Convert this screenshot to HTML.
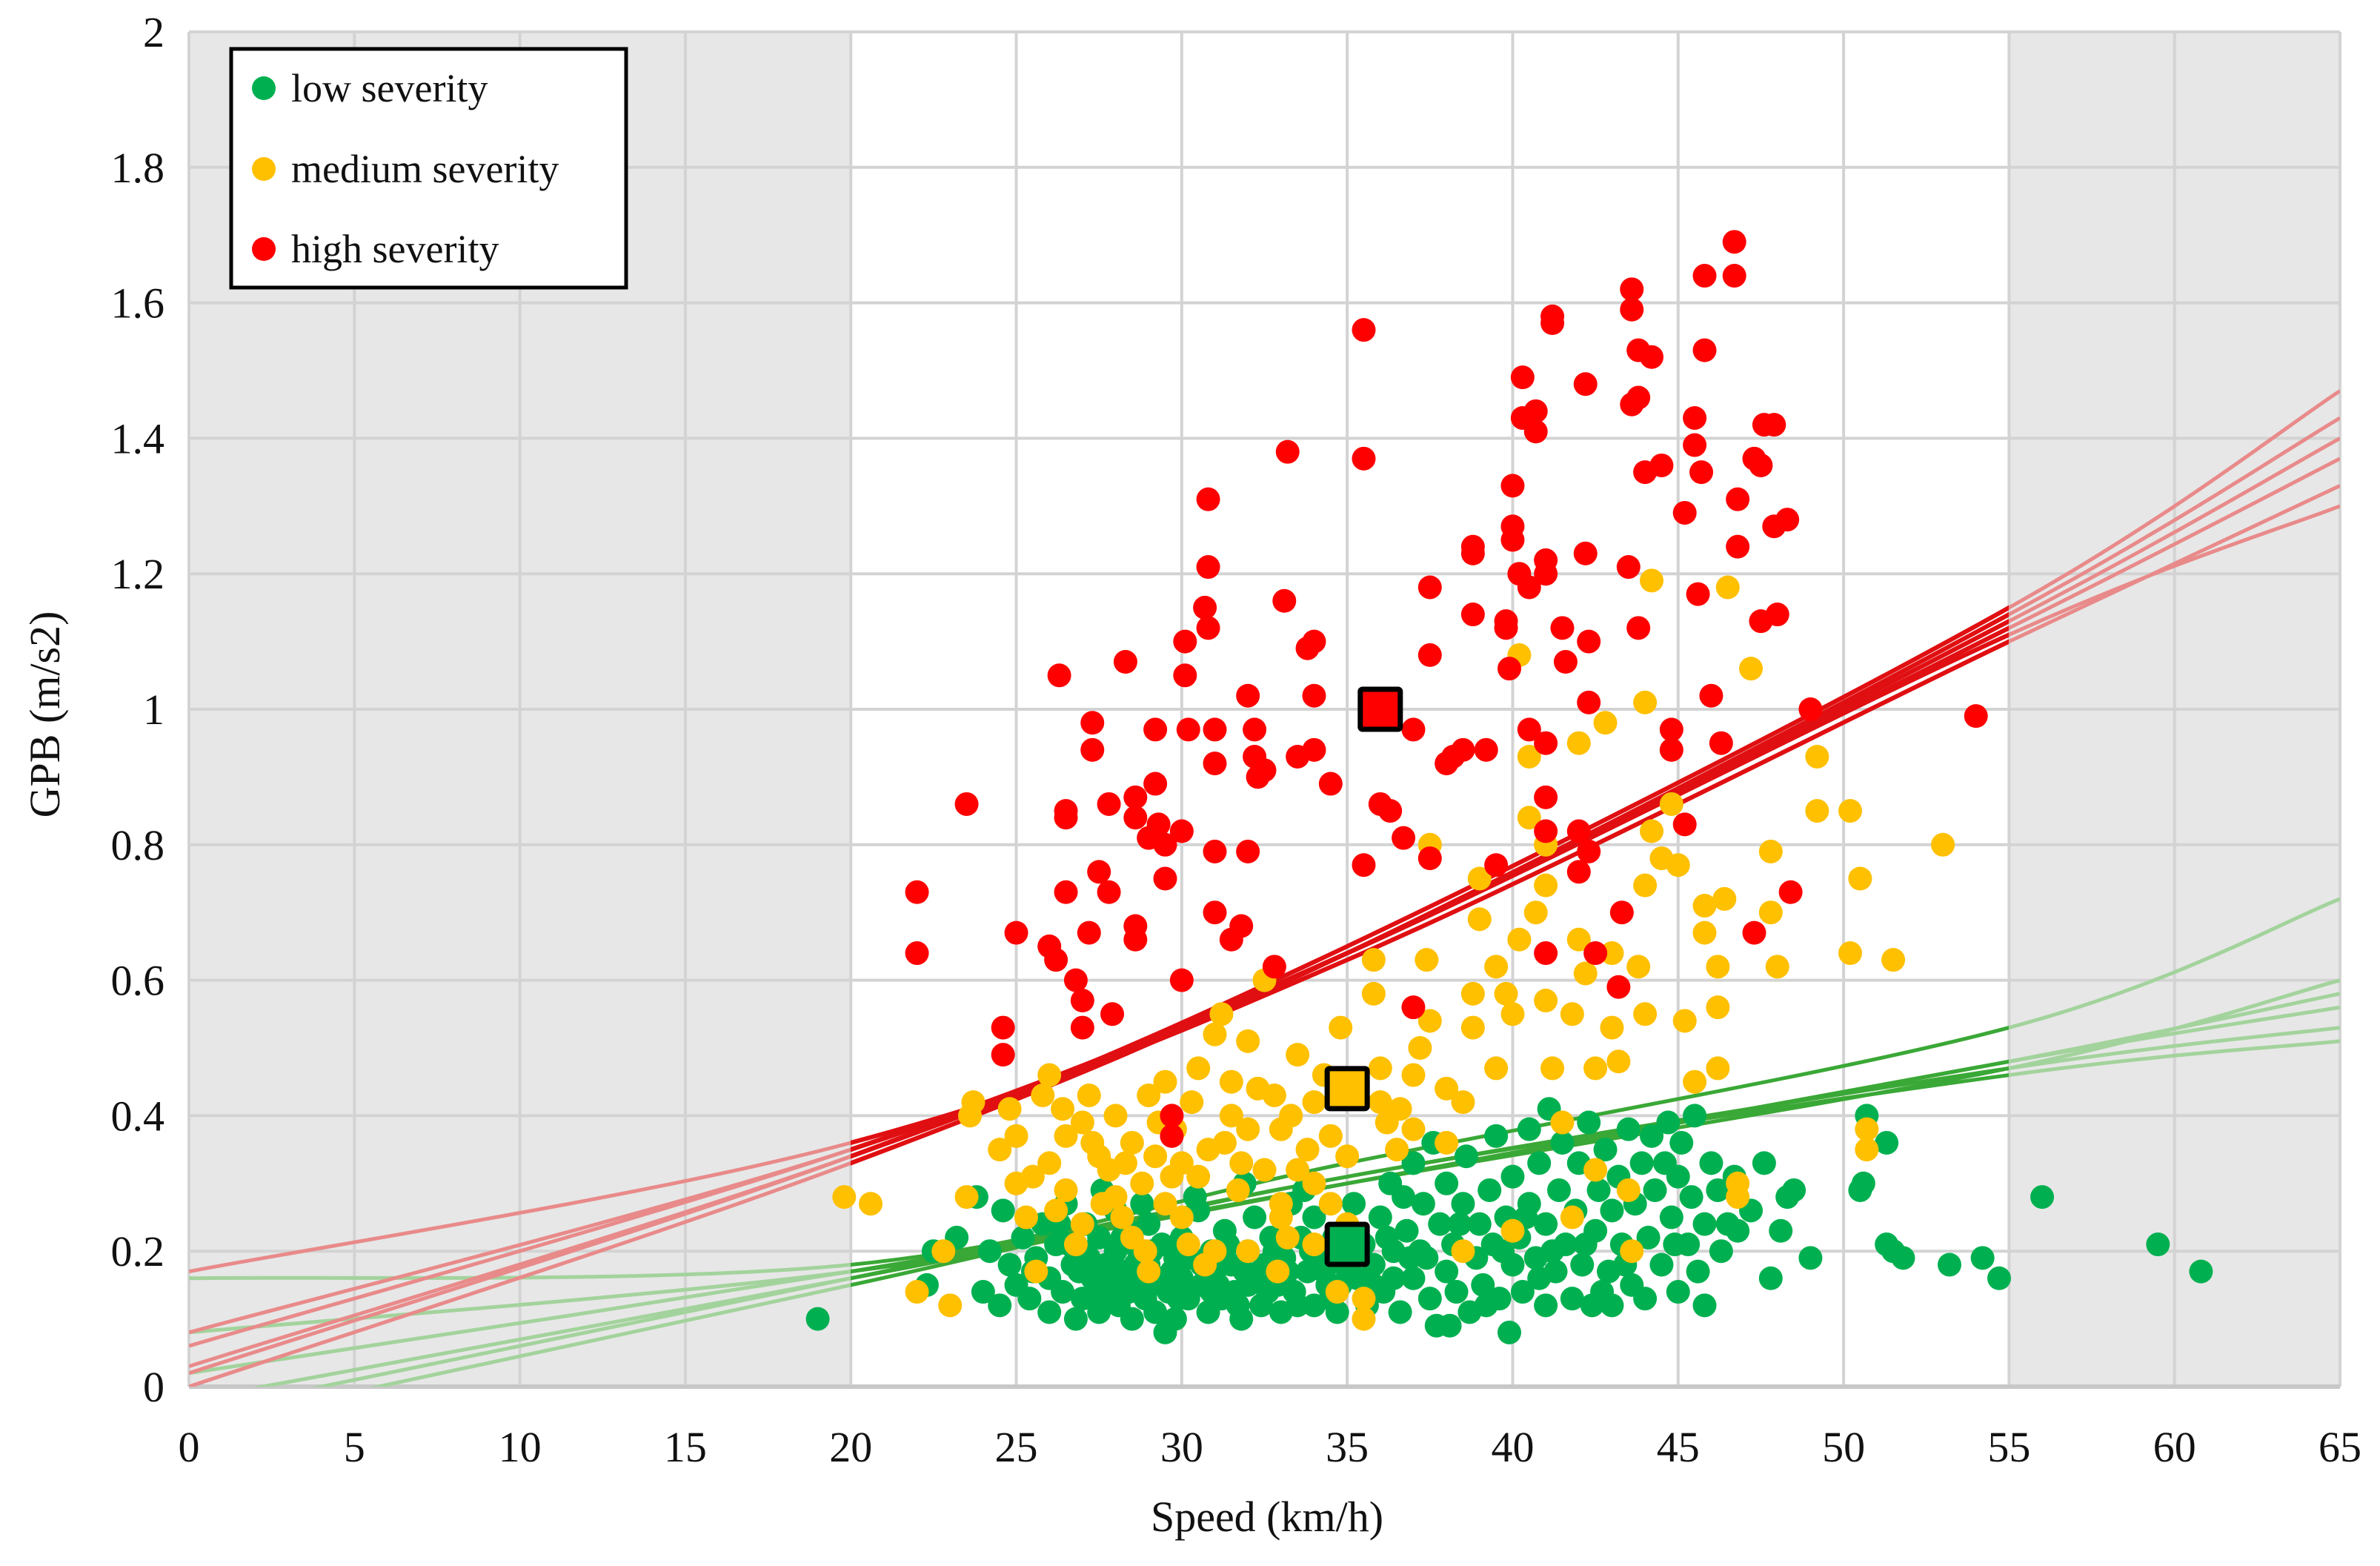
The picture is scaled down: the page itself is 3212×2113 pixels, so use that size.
<!DOCTYPE html>
<html><head><meta charset="utf-8"><style>
html,body{margin:0;padding:0;background:#fff}
svg{display:block}
text{font-family:"Liberation Serif",serif;fill:#111}
</style></head><body>
<svg id="chart" width="3212" height="2113" xmlns="http://www.w3.org/2000/svg">
<defs>
<clipPath id="plotClip"><rect x="255" y="43" width="2903" height="1828"/></clipPath>
<clipPath id="midClip"><rect x="1148" y="43" width="1563" height="1828"/></clipPath>
</defs>
<g id="bg"></g>
<g id="grid"></g>
<g id="lines"></g>
<g id="pts"></g>
<g id="sq"></g>
<g id="ticks"></g>
<text x="1710" y="2066" font-size="58" text-anchor="middle">Speed (km/h)</text>
<text transform="translate(80,964) rotate(-90)" font-size="58" text-anchor="middle">GPB (m/s2)</text>
<g>
<rect x="312" y="66" width="533" height="322" fill="#fff" stroke="#000" stroke-width="5"/>
<g><circle cx="356" cy="119" r="16" fill="#00b050"/><text x="393" y="137" font-size="54">low severity</text></g>
<g><circle cx="356" cy="228" r="16" fill="#ffc000"/><text x="393" y="246" font-size="54">medium severity</text></g>
<g><circle cx="356" cy="336" r="16" fill="#ff0000"/><text x="393" y="354" font-size="54">high severity</text></g>
</g>
</svg>
<script>
const xTicks=[0,5,10,15,20,25,30,35,40,45,50,55,60,65];
const yTicks=[0,0.2,0.4,0.6,0.8,1,1.2,1.4,1.6,1.8,2];
const yTickLabels=["0","0.2","0.4","0.6","0.8","1","1.2","1.4","1.6","1.8","2"];
const highPts=[[22,0.73],[22,0.64],[23.5,0.86],[24.6,0.53],[24.6,0.49],[25,0.67],[26.3,1.05],[26,0.65],[26.2,0.63],[26.5,0.85],[26.5,0.84],[26.5,0.73],[26.8,0.6],[27,0.57],[27,0.53],[27.2,0.67],[27.3,0.98],[27.3,0.94],[27.5,0.76],[27.8,0.86],[27.8,0.73],[27.9,0.55],[28.3,1.07],[28.6,0.87],[28.6,0.84],[28.6,0.68],[28.6,0.66],[29,0.81],[29.2,0.97],[29.2,0.89],[29.3,0.83],[29.5,0.8],[29.5,0.75],[29.7,0.4],[29.7,0.37],[30,0.82],[30,0.6],[30.1,1.1],[30.1,1.05],[30.2,0.97],[30.8,1.31],[30.8,1.21],[30.7,1.15],[30.8,1.12],[31,0.97],[31,0.92],[31,0.79],[31,0.7],[31.5,0.66],[31.8,0.68],[32,1.02],[32,0.79],[32.2,0.97],[32.2,0.93],[32.3,0.9],[32.5,0.91],[32.8,0.62],[33.2,1.38],[33.1,1.16],[33.5,0.93],[33.8,1.09],[34,1.1],[34,1.02],[34,0.94],[34.5,0.89],[35.5,1.56],[35.5,1.37],[35.5,0.77],[36,0.86],[36.3,0.85],[36.7,0.81],[37,0.97],[37,0.56],[37.5,1.08],[37.5,0.78],[37.5,1.18],[38,0.92],[38.2,0.93],[38.5,0.94],[38.8,1.14],[38.8,1.24],[38.8,1.23],[39.2,0.94],[39.5,0.77],[39.8,1.13],[39.8,1.12],[39.9,1.06],[40,1.33],[40,1.27],[40,1.25],[40.2,1.2],[40.3,1.49],[40.3,1.43],[40.5,1.18],[40.5,0.97],[40.7,1.44],[40.7,1.41],[41,1.22],[41,1.2],[41,0.95],[41,0.87],[41,0.82],[41,0.64],[41.2,1.58],[41.2,1.57],[41.5,1.12],[41.6,1.07],[42,0.82],[42,0.76],[42.2,1.48],[42.2,1.23],[42.3,1.1],[42.3,1.01],[42.3,0.79],[42.5,0.64],[43.2,0.59],[43.5,1.21],[43.6,1.62],[43.6,1.59],[43.6,1.45],[43.8,1.53],[43.8,1.46],[43.8,1.12],[43.3,0.7],[44,1.35],[44.2,1.52],[44.5,1.36],[44.8,0.94],[44.8,0.97],[45.2,0.83],[45.2,1.29],[45.5,1.43],[45.5,1.39],[45.6,1.17],[45.7,1.35],[45.8,1.53],[45.8,1.64],[46,1.02],[46.3,0.95],[46.7,1.69],[46.7,1.64],[46.8,1.31],[46.8,1.24],[47.3,1.37],[47.5,1.13],[47.5,1.36],[47.6,1.42],[47.9,1.42],[47.9,1.27],[48,1.14],[48.3,1.28],[48.4,0.73],[47.3,0.67],[49,1.0],[54,0.99]];
const medPts=[[19.8,0.28],[20.6,0.27],[22,0.14],[22.8,0.2],[23,0.12],[23.5,0.28],[23.7,0.42],[23.6,0.4],[24.5,0.35],[24.8,0.41],[25,0.37],[25,0.3],[25.5,0.31],[25.6,0.17],[25.8,0.43],[26,0.46],[26,0.33],[26.2,0.26],[26.5,0.37],[26.5,0.29],[26.8,0.21],[27,0.24],[27,0.39],[27.2,0.43],[27.5,0.34],[27.8,0.32],[28,0.4],[28,0.28],[28.2,0.25],[28.5,0.36],[28.5,0.22],[28.8,0.3],[29,0.43],[29,0.17],[29.2,0.34],[29.5,0.45],[29.5,0.27],[29.8,0.38],[30,0.33],[30,0.25],[30.2,0.21],[30.5,0.31],[30.8,0.35],[31,0.2],[31,0.52],[31.2,0.55],[31.5,0.45],[31.5,0.4],[31.7,0.29],[32,0.51],[32,0.38],[32,0.2],[32.5,0.6],[32.5,0.32],[32.8,0.43],[33,0.38],[33,0.25],[33.2,0.22],[33.5,0.49],[33.5,0.32],[34,0.42],[34,0.3],[34,0.21],[34.5,0.37],[34.5,0.27],[34.8,0.53],[35,0.34],[35,0.24],[35.5,0.13],[35.5,0.1],[35.8,0.63],[35.8,0.58],[36,0.42],[36,0.47],[36.2,0.39],[36.5,0.35],[37,0.46],[37,0.38],[37.4,0.63],[37.5,0.54],[37.5,0.8],[38,0.44],[38,0.36],[38.5,0.42],[38.5,0.2],[38.8,0.58],[38.8,0.53],[39,0.75],[39,0.69],[39.5,0.47],[39.5,0.62],[39.8,0.58],[40,0.23],[40,0.55],[40.2,1.08],[40.2,0.66],[40.5,0.84],[40.5,0.93],[40.7,0.7],[41,0.8],[41,0.74],[41,0.57],[41.2,0.47],[41.5,0.39],[41.8,0.55],[42,0.95],[42,0.66],[42.2,0.61],[42.5,0.47],[42.8,0.98],[43,0.53],[43,0.64],[43.2,0.48],[43.5,0.29],[43.8,0.62],[44,1.01],[44,0.74],[44,0.55],[44.2,0.82],[44.2,1.19],[44.5,0.78],[44.8,0.86],[45,0.77],[45.2,0.54],[45.8,0.71],[45.8,0.67],[46.2,0.62],[46.2,0.56],[46.4,0.72],[46.5,1.18],[46.2,0.47],[47.2,1.06],[47.8,0.79],[47.8,0.7],[48,0.62],[49.2,0.93],[49.2,0.85],[50.2,0.85],[50.2,0.64],[50.5,0.75],[50.7,0.38],[50.7,0.35],[51.5,0.63],[53,0.8],[46.8,0.3],[46.8,0.28],[45.5,0.45],[43.6,0.2],[42.5,0.32],[41.8,0.25],[27.3,0.36],[28.3,0.33],[29.3,0.39],[30.3,0.42],[31.3,0.36],[32.3,0.44],[33.3,0.4],[34.3,0.46],[27.6,0.27],[29.7,0.31],[31.8,0.33],[33.8,0.35],[28.9,0.2],[30.7,0.18],[32.9,0.17],[34.7,0.14],[36.6,0.41],[37.2,0.5],[26.4,0.41],[25.3,0.25],[33,0.27],[30.5,0.47]];
const lowPts=[[19,0.1],[22.3,0.15],[22.5,0.2],[23.2,0.22],[23.8,0.28],[24,0.14],[24.5,0.12],[24.6,0.26],[24.8,0.18],[25,0.15],[25.2,0.22],[25.4,0.13],[25.6,0.19],[25.8,0.24],[26,0.11],[26,0.16],[26.2,0.21],[26.4,0.14],[26.5,0.27],[26.7,0.18],[26.8,0.1],[27,0.13],[27,0.2],[27.1,0.24],[27.3,0.16],[27.5,0.11],[27.5,0.22],[27.7,0.18],[27.8,0.14],[28,0.2],[28,0.26],[28.1,0.12],[28.3,0.17],[28.4,0.23],[28.5,0.1],[28.6,0.15],[28.7,0.2],[28.9,0.13],[29,0.18],[29,0.24],[29.2,0.11],[29.3,0.16],[29.4,0.21],[29.5,0.08],[29.6,0.14],[29.8,0.19],[29.8,0.1],[30,0.16],[30,0.22],[30.2,0.13],[30.3,0.19],[30.5,0.26],[30.6,0.15],[30.8,0.11],[30.9,0.2],[31,0.17],[31.2,0.13],[31.3,0.23],[31.5,0.18],[31.6,0.14],[31.8,0.1],[32,0.2],[32,0.15],[32.2,0.25],[32.4,0.12],[32.5,0.18],[32.7,0.22],[32.9,0.15],[33,0.11],[33.1,0.19],[33.3,0.27],[33.4,0.14],[33.6,0.22],[33.8,0.17],[34,0.12],[34,0.25],[34.2,0.19],[34.4,0.15],[34.6,0.22],[34.7,0.11],[34.9,0.18],[35.2,0.27],[35.3,0.16],[35.5,0.21],[35.6,0.12],[35.8,0.18],[36,0.25],[36.1,0.14],[36.3,0.3],[36.4,0.2],[36.6,0.11],[36.8,0.23],[37,0.16],[37,0.33],[37.2,0.2],[37.3,0.27],[37.5,0.13],[37.6,0.36],[37.7,0.09],[37.8,0.24],[38,0.17],[38,0.3],[38.2,0.21],[38.3,0.14],[38.5,0.27],[38.6,0.34],[38.7,0.11],[38.9,0.19],[39,0.24],[39.1,0.15],[39.3,0.29],[39.4,0.21],[39.5,0.37],[39.6,0.13],[39.8,0.25],[39.9,0.08],[40,0.18],[40,0.31],[40.2,0.22],[40.3,0.14],[40.5,0.27],[40.5,0.38],[40.7,0.19],[40.8,0.33],[41,0.12],[41,0.24],[41.1,0.41],[41.3,0.17],[41.4,0.29],[41.5,0.36],[41.6,0.21],[41.8,0.13],[41.9,0.26],[42,0.33],[42.1,0.18],[42.3,0.39],[42.4,0.12],[42.5,0.23],[42.6,0.29],[42.8,0.35],[42.9,0.17],[43,0.12],[43,0.26],[43.2,0.31],[43.3,0.21],[43.5,0.38],[43.6,0.15],[43.7,0.27],[43.9,0.33],[44,0.13],[44.1,0.22],[44.2,0.37],[44.3,0.29],[44.5,0.18],[44.6,0.33],[44.7,0.39],[44.8,0.25],[45,0.14],[45,0.31],[45.1,0.36],[45.3,0.21],[45.4,0.28],[45.5,0.4],[45.6,0.17],[45.8,0.24],[45.8,0.12],[46,0.33],[46.2,0.29],[46.3,0.2],[46.5,0.24],[46.7,0.31],[46.8,0.23],[47.2,0.26],[47.6,0.33],[47.8,0.16],[48.1,0.23],[48.3,0.28],[48.5,0.29],[49,0.19],[50.5,0.29],[50.6,0.3],[50.7,0.4],[51.3,0.36],[51.3,0.21],[51.5,0.2],[51.8,0.19],[53.2,0.18],[54.2,0.19],[54.7,0.16],[56,0.28],[59.5,0.21],[60.8,0.17],[26.3,0.24],[27.6,0.29],[28.8,0.27],[30.4,0.28],[31.9,0.3],[33.7,0.29],[35,0.23],[36.7,0.28],[26.9,0.17],[29.1,0.2],[32.6,0.14],[34.8,0.15],[36.4,0.16],[38.1,0.09],[39.2,0.12],[40.8,0.16],[42.7,0.14],[27.2,0.19],[27.9,0.16],[28.2,0.22],[28.6,0.18],[29.1,0.15],[29.7,0.17],[30.1,0.2],[30.6,0.18],[31.1,0.15],[31.4,0.21],[31.9,0.17],[32.3,0.16],[32.8,0.2],[33.2,0.17],[33.9,0.2],[34.3,0.17],[34.5,0.13],[35.8,0.15],[36.9,0.19],[27.4,0.13],[28.4,0.14],[29.9,0.13],[30.9,0.14],[31.7,0.12],[33.5,0.12],[36.2,0.22],[37.4,0.19],[38.4,0.24],[39.7,0.2],[41.2,0.2],[42.2,0.21],[43.4,0.18],[44.9,0.21],[40.4,0.25],[26.6,0.21],[25.5,0.17],[24.2,0.2]];
const centroidSpeed=[35,35,36];
const centroidGpb=[0.21,0.44,1.0];
const centroidColors=["#00b050","#ffc000","#ff0000"];
const lineX=[0,20,35,55,65];
const redLines=[[0.17,0.36,0.63,1.10,1.33],[0.08,0.35,0.64,1.12,1.37],[0.03,0.34,0.64,1.13,1.40],[0.0,0.33,0.64,1.14,1.43],[0.02,0.34,0.65,1.15,1.47],[0.06,0.35,0.64,1.11,1.30]];
const greenLines=[[0.16,0.18,0.33,0.53,0.72],[0.08,0.17,0.30,0.47,0.60],[0.02,0.17,0.30,0.48,0.58],[-0.02,0.16,0.30,0.48,0.56],[-0.04,0.16,0.31,0.47,0.53],[-0.06,0.15,0.31,0.46,0.51]];

const NS="http://www.w3.org/2000/svg";
const L=255,R=3158,T=43,B=1871;
function sx(v){return L+(v-0)/(65-0)*(R-L);}
function sy(v){return B-(v-0)/(2-0)*(B-T);}
function mk(tag,attrs,parent){const e=document.createElementNS(NS,tag);for(const k in attrs)e.setAttribute(k,attrs[k]);parent.appendChild(e);return e;}
const bg=document.getElementById('bg');
let r1=mk('rect',{x:sx(0),y:T,width:sx(20)-sx(0),height:B-T,fill:'#e7e7e7'},bg);


let r2=mk('rect',{x:sx(20),y:T,width:sx(55)-sx(20),height:B-T,fill:'#fff'},bg);


let r3=mk('rect',{x:sx(55),y:T,width:sx(65)-sx(55),height:B-T,fill:'#e7e7e7'},bg);


const grid=document.getElementById('grid');
xTicks.forEach(v=>{const l=mk('line',{x1:sx(v),x2:sx(v),y1:T,y2:B,stroke:'#d3d3d3','stroke-width':4},grid);

});
yTicks.forEach(v=>{const l=mk('line',{x1:L,x2:R,y1:sy(v),y2:sy(v),stroke:v===0?'#c8c8c8':'#d3d3d3','stroke-width':v===0?6:4},grid);

});
const ticks=document.getElementById('ticks');
xTicks.forEach(v=>{const t=mk('text',{x:sx(v),y:1972,'font-size':58,'text-anchor':'middle'},ticks);t.textContent=String(v);

});
yTicks.forEach((v,i)=>{const t=mk('text',{x:222,y:sy(v)+20,'font-size':58,'text-anchor':'end'},ticks);t.textContent=yTickLabels[i];

});
function pathFor(vals){const p=lineX.map((x,i)=>[sx(x),sy(vals[i])]);let d='M'+p[0][0]+','+p[0][1];
for(let i=0;i<p.length-1;i++){const p0=p[Math.max(0,i-1)],p1=p[i],p2=p[i+1],p3=p[Math.min(p.length-1,i+2)];
const c1=[p1[0]+(p2[0]-p0[0])/6,p1[1]+(p2[1]-p0[1])/6],c2=[p2[0]-(p3[0]-p1[0])/6,p2[1]-(p3[1]-p1[1])/6];
d+=' C'+c1[0]+','+c1[1]+' '+c2[0]+','+c2[1]+' '+p2[0]+','+p2[1];}return d;}
const lines=document.getElementById('lines');
const gFaint=mk('g',{'clip-path':'url(#plotClip)'},lines);
const gDark=mk('g',{'clip-path':'url(#midClip)'},lines);
greenLines.forEach(v=>{const a=mk('path',{d:pathFor(v),fill:'none',stroke:'#a3d39c','stroke-width':5},gFaint);


const b=mk('path',{d:pathFor(v),fill:'none',stroke:'#3aa836','stroke-width':5},gDark);

});
redLines.forEach(v=>{const a=mk('path',{d:pathFor(v),fill:'none',stroke:'#e98a8a','stroke-width':5},gFaint);


const b=mk('path',{d:pathFor(v),fill:'none',stroke:'#e00f12','stroke-width':6},gDark);

});
const pts=document.getElementById('pts');
function dots(arr,color,name){arr.forEach(p=>{const c=mk('circle',{cx:sx(p[0]),cy:sy(p[1]),r:16,fill:color},pts);

});}
dots(lowPts,'#00b050','low-severity-point');
dots(medPts,'#ffc000','medium-severity-point');
dots(highPts,'#ff0000','high-severity-point');
const sq=document.getElementById('sq');
centroidSpeed.forEach((s,i)=>{const q=mk('rect',{x:sx(s)-27,y:sy(centroidGpb[i])-27,width:54,height:54,fill:centroidColors[i],stroke:'#000','stroke-width':7,rx:3},sq);

});
</script>
</body></html>
